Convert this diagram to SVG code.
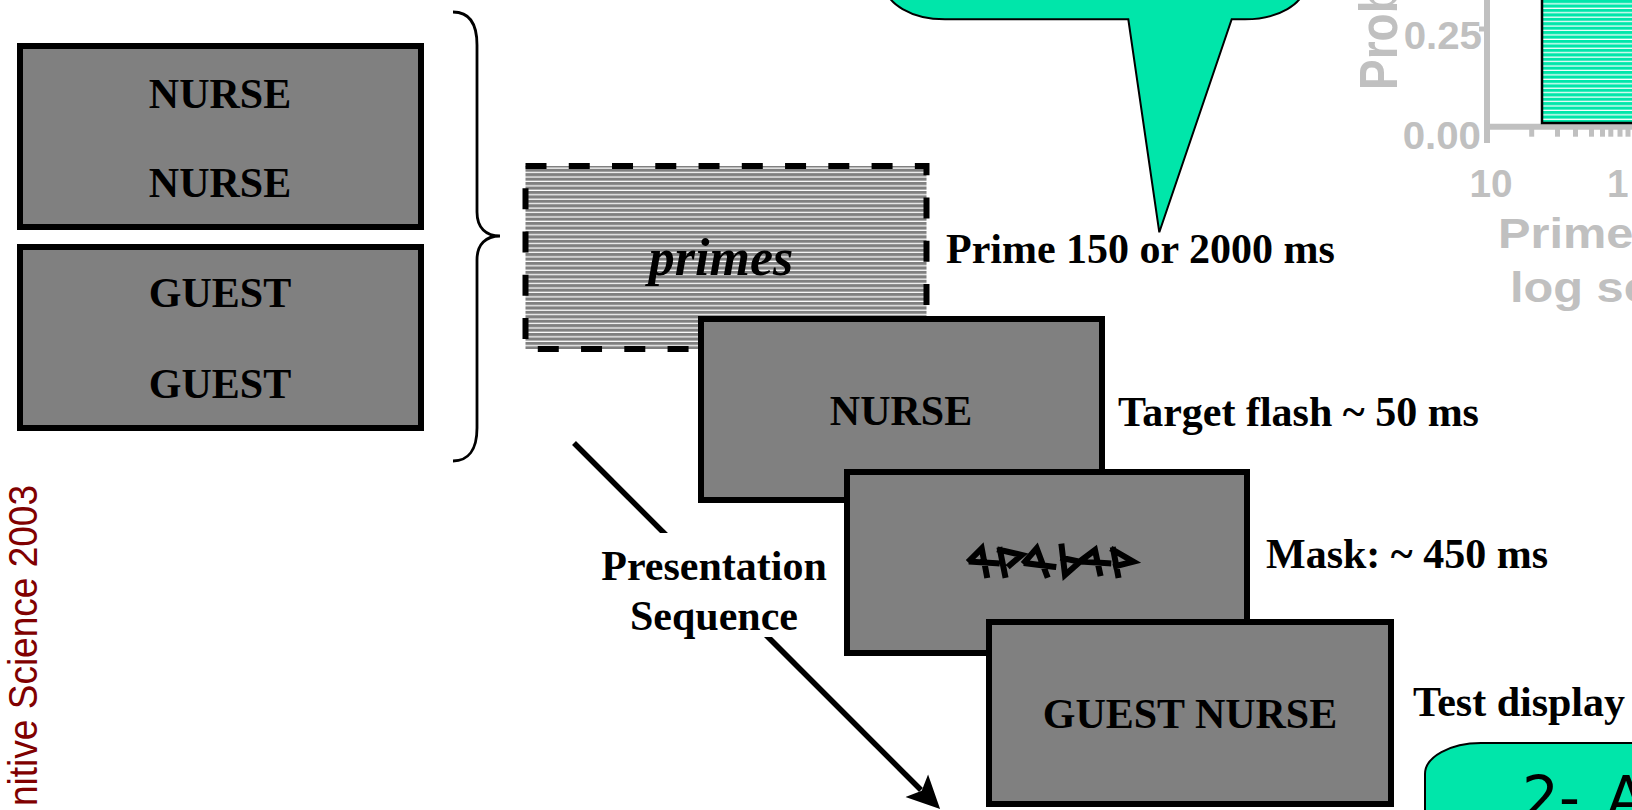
<svg xmlns="http://www.w3.org/2000/svg" width="1632" height="810" viewBox="0 0 1632 810">
<defs>
<style>
.box{fill:#808080;stroke:#000;stroke-width:6}
.tb{font-family:"Liberation Serif","Times New Roman",serif;font-weight:bold;font-size:42px;fill:#000}
.mid{text-anchor:middle}
.gt{font-family:"Liberation Sans",Arial,sans-serif;font-weight:bold;fill:#C0C0C0}
.ax{stroke:#C0C0C0;fill:none}
.green{fill:#00E6AA;stroke:#000;stroke-width:2}
.conn{stroke:#000;stroke-width:5.5;fill:none}
.mask{stroke:#000;stroke-width:6;fill:none;stroke-linejoin:miter;stroke-linecap:square}
</style>
<pattern id="grayStripes" width="10" height="4.44" patternUnits="userSpaceOnUse">
<rect width="10" height="4.44" fill="#808080"/>
<rect y="3.2" width="10" height="1.24" fill="#ffffff"/>
</pattern>
<pattern id="greenStripes" width="10" height="4.44" patternUnits="userSpaceOnUse">
<rect width="10" height="4.44" fill="#00E6AA"/>
<rect y="3.2" width="10" height="1.24" fill="#ffffff"/>
</pattern>
<marker id="arrow" markerUnits="userSpaceOnUse" viewBox="0 -20 40 40" markerWidth="40" markerHeight="40" refX="6" refY="0" orient="auto">
<path d="M0,-16 L33,0 L0,16 L7,0 Z" fill="#000"/>
</marker>
</defs>

<g id="callout">
<path class="green" d="M885,-60 L885,-15.7 A60,35 0 0 0 945,19.3 L1128.3,19.3 L1159.3,232.3 L1231.7,19.3 L1245,19.3 A60,35 0 0 0 1305,-15.7 L1305,-60 Z"/>
</g>

<g id="chart">
<line class="ax" x1="1487" y1="-5" x2="1487" y2="143" stroke-width="6"/>
<line class="ax" x1="1479" y1="29" x2="1487" y2="29" stroke-width="5"/>
<line class="ax" x1="1484" y1="126.7" x2="1640" y2="126.7" stroke-width="6"/>
<g class="ax" stroke-width="5">
<line x1="1531.7" y1="126" x2="1531.7" y2="136.7"/>
<line x1="1557.5" y1="126" x2="1557.5" y2="136.7"/>
<line x1="1575.5" y1="126" x2="1575.5" y2="136.7"/>
<line x1="1591.5" y1="126" x2="1591.5" y2="136.7"/>
<line x1="1602.5" y1="126" x2="1602.5" y2="136.7"/>
<line x1="1610.8" y1="126" x2="1610.8" y2="136.7"/>
<line x1="1620" y1="126" x2="1620" y2="136.7"/>
<line x1="1628" y1="126" x2="1628" y2="136.7"/>
</g>
<rect x="1542" y="-10" width="100" height="133" fill="url(#greenStripes)" stroke="#000" stroke-width="2.5"/>
<text class="gt" font-size="46" transform="translate(1397,90) scale(1.15,1) rotate(-90)">Prob</text>
<text class="gt" font-size="38" text-anchor="end" transform="translate(1482,49) scale(1.06,1)">0.25</text>
<text class="gt" font-size="38" text-anchor="end" transform="translate(1481,148.5) scale(1.06,1)">0.00</text>
<text class="gt" font-size="38" text-anchor="middle" transform="translate(1491,197) scale(1.02,1)">10</text>
<text class="gt" font-size="38" transform="translate(1607,197) scale(1.02,1)">1</text>
<text class="gt" font-size="42" transform="translate(1498,248.3) scale(1.16,1)">Prime</text>
<text class="gt" font-size="42" transform="translate(1510,301.7) scale(1.16,1)">log sc</text>
</g>

<g id="side-text">
<text font-family="'Liberation Sans',Arial,sans-serif" font-size="40" fill="#800000" text-anchor="end" textLength="321" lengthAdjust="spacingAndGlyphs" transform="translate(36.5,485) rotate(-90)">nitive Science 2003</text>
</g>

<g id="node-nurse-pair">
<rect class="box" x="20" y="46" width="401" height="181"/>
<text class="tb mid" x="220" y="108.3">NURSE</text>
<text class="tb mid" x="220" y="196.7">NURSE</text>
</g>
<g id="node-guest-pair">
<rect class="box" x="20" y="247" width="401" height="181"/>
<text class="tb mid" x="220" y="307.3">GUEST</text>
<text class="tb mid" x="220" y="398.3">GUEST</text>
</g>
<g id="brace">
<path d="M453,12 C468,12 477,22 477,45 L477,212 C477,228 486,236 500,236 C486,236 477,244 477,260 L477,428 C477,450 468,461 453,461" fill="none" stroke="#000" stroke-width="2.8"/>
</g>

<g id="node-primes">
<rect x="525.5" y="166" width="401" height="183" fill="url(#grayStripes)" stroke="#000" stroke-width="6" stroke-dasharray="21 22.26"/>
<text class="tb mid" x="721" y="275" style="font-size:52px;font-style:italic">primes</text>
<text class="tb" x="946" y="263">Prime 150 or 2000 ms</text>
</g>

<g id="node-target">
<rect class="box" x="701" y="319" width="401" height="181"/>
<text class="tb mid" x="901" y="425">NURSE</text>
<text class="tb" x="1118" y="426">Target flash ~ 50 ms</text>
</g>

<g id="node-mask">
<rect class="box" x="847" y="472" width="400" height="181"/>
<path class="mask" d="M970,560 L981.7,548.3 L986.7,575 M971.7,561.7 L996.7,563.3 M1000,550 L1005,575 M1000,550 L1021.7,555 L1010,565 M1025,561.7 L1036.7,548.3 L1046.7,575 M1026.7,563.3 L1053.3,566.7 M1061.7,546.7 L1065,575 L1080,561.7 L1063.3,558.3 M1081.7,560 L1095,550 L1100,573.3 M1083.3,561.7 L1108.3,563.3 M1113.3,550 L1118,575 M1113.3,550 L1133.3,561.7 L1116,566"/>
<text class="tb" x="1266" y="568.3">Mask: ~ 450 ms</text>
</g>

<g id="node-test">
<rect class="box" x="989" y="622" width="402" height="182"/>
<text class="tb mid" x="1190" y="728.3">GUEST NURSE</text>
<text class="tb" x="1413" y="716">Test display</text>
</g>

<g id="answer-box">
<path class="green" d="M1425,815 L1425,774 A56,31 0 0 1 1481,743 L1640,743 L1640,815 Z"/>
<text x="1522" y="818" font-family="'DejaVu Sans',Verdana,sans-serif" font-size="58" word-spacing="8" fill="#000">2- A</text>
</g>

<g id="connectors">
<line class="conn" x1="574" y1="443" x2="921" y2="790" marker-end="url(#arrow)"/>
</g>

<g id="label-sequence">
<rect x="598" y="533" width="232" height="104" fill="#fff"/>
<text class="tb mid" x="714" y="580">Presentation</text>
<text class="tb mid" x="714" y="630">Sequence</text>
</g>
</svg>
